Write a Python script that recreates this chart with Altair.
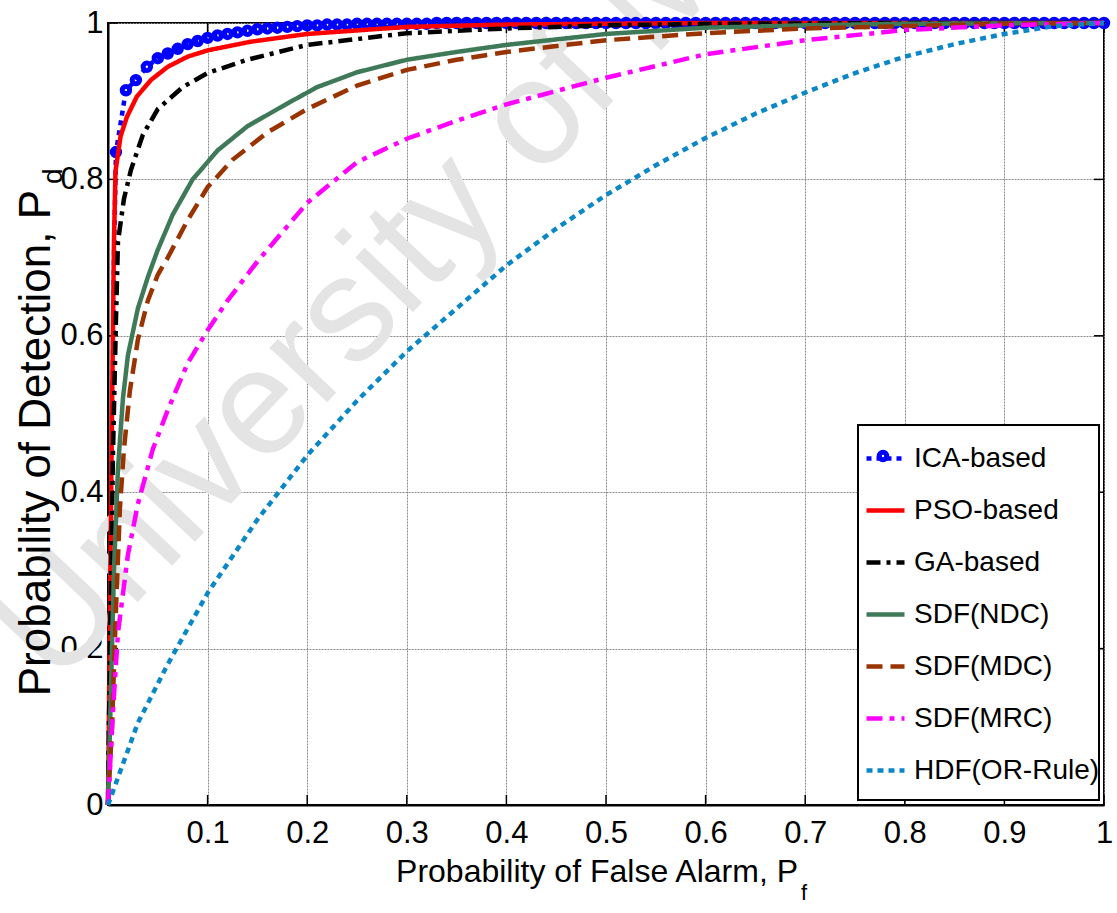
import altair as alt
import pandas as pd

FONT = "Liberation Sans, Arial, sans-serif"

series_names = ["ICA-based", "PSO-based", "GA-based", "SDF(NDC)", "SDF(MDC)", "SDF(MRC)", "HDF(OR-Rule)"]
series_colors = ["#0000FF", "#FF0000", "#000000", "#3F7A58", "#993300", "#FF00FF", "#0B87C8"]
series_dashes = [[5, 5], [1, 0], [14, 6, 4, 6], [1, 0], [16, 8], [16, 7, 5, 7], [6, 5]]

# ICA-based (markers every 0.01 of Pf)
ica_pf = [0, 0.003, 0.006, 0.008, 0.018, 0.028, 0.039, 0.05, 0.06, 0.07, 0.08, 0.09,
          0.10, 0.11, 0.12, 0.13, 0.14, 0.15, 0.16, 0.17, 0.18, 0.19,
          0.20, 0.21, 0.22, 0.23, 0.24, 0.25, 0.26, 0.27, 0.28, 0.29,
          0.30, 0.31, 0.32, 0.33, 0.34, 0.35, 0.36, 0.37, 0.38, 0.39,
          0.40, 0.41, 0.42, 0.43, 0.44, 0.45, 0.46, 0.47, 0.48, 0.49,
          0.50, 0.51, 0.52, 0.53, 0.54, 0.55, 0.56, 0.57, 0.58, 0.59,
          0.60, 0.61, 0.62, 0.63, 0.64, 0.65, 0.66, 0.67, 0.68, 0.69,
          0.70, 0.71, 0.72, 0.73, 0.74, 0.75, 0.76, 0.77, 0.78, 0.79,
          0.80, 0.81, 0.82, 0.83, 0.84, 0.85, 0.86, 0.87, 0.88, 0.89,
          0.90, 0.91, 0.92, 0.93, 0.94, 0.95, 0.96, 0.97, 0.98, 0.99, 1.00]
ica_pd = [0, 0.30, 0.70, 0.835, 0.914, 0.927, 0.944, 0.955, 0.961, 0.967, 0.973, 0.977,
          0.981, 0.984, 0.986, 0.988, 0.990, 0.992, 0.993, 0.994, 0.995, 0.996,
          0.997, 0.997, 0.998, 0.998, 0.998, 0.999, 0.999, 0.999, 0.999, 0.999,
          0.999, 0.999, 0.999, 1.0, 1.0, 1.0, 1.0, 1.0, 1.0, 1.0,
          1.0, 1.0, 1.0, 1.0, 1.0, 1.0, 1.0, 1.0, 1.0, 1.0,
          1.0, 1.0, 1.0, 1.0, 1.0, 1.0, 1.0, 1.0, 1.0, 1.0,
          1.0, 1.0, 1.0, 1.0, 1.0, 1.0, 1.0, 1.0, 1.0, 1.0,
          1.0, 1.0, 1.0, 1.0, 1.0, 1.0, 1.0, 1.0, 1.0, 1.0,
          1.0, 1.0, 1.0, 1.0, 1.0, 1.0, 1.0, 1.0, 1.0, 1.0,
          1.0, 1.0, 1.0, 1.0, 1.0, 1.0, 1.0, 1.0, 1.0, 1.0, 1.0]

pso_pf = [0, 0.002, 0.004, 0.006, 0.0075, 0.0126, 0.019, 0.029, 0.043, 0.06, 0.08, 0.1, 0.143, 0.2, 0.3, 0.4, 0.6, 1.0]
pso_pd = [0, 0.25, 0.50, 0.72, 0.81, 0.855, 0.88, 0.906, 0.927, 0.944, 0.957, 0.965, 0.976, 0.986, 0.995, 0.998, 1.0, 1.0]

ga_pf = [0, 0.002, 0.005, 0.008, 0.01, 0.016, 0.023, 0.035, 0.05, 0.075, 0.1, 0.14, 0.2, 0.3, 0.4, 0.5, 0.6, 0.8, 1.0]
ga_pd = [0, 0.20, 0.45, 0.62, 0.72, 0.775, 0.812, 0.857, 0.89, 0.918, 0.936, 0.953, 0.972, 0.987, 0.993, 0.997, 0.999, 1.0, 1.0]

ndc_pf = [0, 0.003, 0.006, 0.01, 0.015, 0.02, 0.03, 0.04, 0.05, 0.065, 0.085, 0.11, 0.14, 0.18, 0.21, 0.25, 0.3, 0.35, 0.4, 0.5, 0.6, 0.7, 0.8, 1.0]
ndc_pd = [0, 0.15, 0.30, 0.43, 0.52, 0.575, 0.635, 0.675, 0.71, 0.755, 0.80, 0.837, 0.868, 0.897, 0.918, 0.937, 0.953, 0.963, 0.972, 0.986, 0.994, 0.997, 0.999, 1.0]

mdc_pf = [0, 0.004, 0.008, 0.012, 0.016, 0.022, 0.03, 0.04, 0.05, 0.06, 0.08, 0.1, 0.125, 0.16, 0.2, 0.25, 0.3, 0.35, 0.4, 0.5, 0.6, 0.7, 0.8, 0.9, 1.0]
mdc_pd = [0, 0.10, 0.25, 0.38, 0.455, 0.53, 0.595, 0.645, 0.678, 0.70, 0.748, 0.79, 0.825, 0.86, 0.89, 0.92, 0.94, 0.953, 0.963, 0.978, 0.987, 0.993, 0.996, 0.999, 1.0]

mrc_pf = [0, 0.005, 0.01, 0.02, 0.03, 0.045, 0.06, 0.08, 0.1, 0.12, 0.15, 0.2, 0.25, 0.3, 0.35, 0.4, 0.5, 0.6, 0.7, 0.8, 0.9, 1.0]
mrc_pd = [0, 0.12, 0.22, 0.32, 0.385, 0.455, 0.505, 0.565, 0.607, 0.645, 0.695, 0.77, 0.822, 0.852, 0.875, 0.896, 0.93, 0.96, 0.978, 0.991, 0.997, 1.0]

hdf_pf = [0, 0.03, 0.06, 0.1, 0.15, 0.2, 0.25, 0.3, 0.35, 0.4, 0.45, 0.5, 0.55, 0.6, 0.65, 0.7, 0.75, 0.8, 0.85, 0.9, 0.95, 1.0]
hdf_pd = [0, 0.105, 0.18, 0.271, 0.365, 0.447, 0.517, 0.58, 0.635, 0.69, 0.737, 0.78, 0.818, 0.853, 0.884, 0.911, 0.936, 0.957, 0.973, 0.986, 0.996, 1.0]

x_ticks = [0.1, 0.2, 0.3, 0.4, 0.5, 0.6, 0.7, 0.8, 0.9, 1.0]
y_ticks = [0, 0.2, 0.4, 0.6, 0.8, 1.0]

all_pf = [ica_pf, pso_pf, ga_pf, ndc_pf, mdc_pf, mrc_pf, hdf_pf]
all_pd = [ica_pd, pso_pd, ga_pd, ndc_pd, mdc_pd, mrc_pd, hdf_pd]

frames = []
for name, pf, pd_ in zip(series_names, all_pf, all_pd):
    frames.append(pd.DataFrame({"Series": name, "Pf": pf, "Pd": pd_, "idx": range(len(pf))}))
df = pd.concat(frames, ignore_index=True)

x_scale = alt.Scale(domain=[0, 1], nice=False, zero=False)
y_scale = alt.Scale(domain=[0, 1], nice=False, zero=False)
x_enc = alt.X("Pf:Q", scale=x_scale,
              axis=alt.Axis(values=x_ticks, format="~g", title=None, grid=True,
                            labelFont=FONT, labelFontSize=31, labelPadding=13,
                            tickSize=0, labelColor="black", labelFlush=False))
y_enc = alt.Y("Pd:Q", scale=y_scale,
              axis=alt.Axis(values=y_ticks, format="~g", title=None, grid=True,
                            labelFont=FONT, labelFontSize=31, labelPadding=5,
                            tickSize=0, labelColor="black", labelFlush=False))
leg = alt.Legend(title=None, orient="none", legendX=750, legendY=408,
                 symbolType="stroke", symbolSize=1444, symbolStrokeWidth=4.5,
                 labelFont=FONT, labelFontSize=28, labelColor="black", labelLimit=400,
                 rowPadding=16, padding=6, labelOffset=7)
color_enc = alt.Color("Series:N", scale=alt.Scale(domain=series_names, range=series_colors), legend=leg)
dash_enc = alt.StrokeDash("Series:N", scale=alt.Scale(domain=series_names, range=series_dashes), legend=leg)

layers = []

one = pd.DataFrame({"a": [0]})
watermark = alt.Chart(one).mark_text(
    text="University of Malaya", font=FONT, fontSize=150, color="#e4e4e4",
    angle=313.5, align="left", baseline="alphabetic"
).encode(x=alt.value(-52), y=alt.value(665))
layers.append(watermark)

# inward tick marks on all four sides
xt_df = pd.DataFrame({"t": x_ticks})
yt_df = pd.DataFrame({"t": y_ticks})
layers.append(alt.Chart(xt_df).mark_rule(color="black", strokeWidth=1.5).encode(
    x=alt.X("t:Q", scale=x_scale), y=alt.value(782), y2=alt.value(772)))
layers.append(alt.Chart(xt_df).mark_rule(color="black", strokeWidth=1.5).encode(
    x=alt.X("t:Q", scale=x_scale), y=alt.value(0), y2=alt.value(10)))
layers.append(alt.Chart(yt_df).mark_rule(color="black", strokeWidth=1.5).encode(
    y=alt.Y("t:Q", scale=y_scale), x=alt.value(0), x2=alt.value(10)))
layers.append(alt.Chart(yt_df).mark_rule(color="black", strokeWidth=1.5).encode(
    y=alt.Y("t:Q", scale=y_scale), x=alt.value(986), x2=alt.value(996)))

for name in series_names:
    ln = alt.Chart(df).transform_filter(alt.datum.Series == name).mark_line(
        strokeWidth=4.5, strokeCap="butt", clip=False
    ).encode(x=x_enc, y=y_enc, color=color_enc, strokeDash=dash_enc, order="idx:Q")
    layers.append(ln)
    if name == "ICA-based":
        pts = alt.Chart(df).transform_filter(
            (alt.datum.Series == name) & (alt.datum.Pf >= 0.0075)
        ).mark_point(shape="circle", filled=False, size=55, strokeWidth=5, color="#0000FF", opacity=1).encode(
            x=alt.X("Pf:Q"), y=alt.Y("Pd:Q"))
        layers.append(pts)

# legend frame (white box with black border) under the legend entries
leg_box = alt.Chart(one).mark_rect(fill="white", stroke="black", strokeWidth=2).encode(
    x=alt.value(750), x2=alt.value(991), y=alt.value(402), y2=alt.value(777))
layers.append(leg_box)

leg_marker = alt.Chart(one).mark_point(shape="circle", filled=False, size=55, strokeWidth=5,
                                        color="#0000FF", opacity=1).encode(
    x=alt.value(775), y=alt.value(433))
layers.append(leg_marker)

xt = alt.Chart(one).mark_text(text="Probability of False Alarm, P", font=FONT, fontSize=32,
                              color="black", align="right", baseline="alphabetic").encode(
    x=alt.value(690), y=alt.value(859))
xs = alt.Chart(one).mark_text(text="f", font=FONT, fontSize=22, color="black",
                              align="left", baseline="alphabetic").encode(
    x=alt.value(693), y=alt.value(877))
yt = alt.Chart(one).mark_text(text="Probability of Detection, P", font=FONT, fontSize=44,
                              color="black", align="right", baseline="alphabetic", angle=270).encode(
    x=alt.value(-58), y=alt.value(167))
ys = alt.Chart(one).mark_text(text="d", font=FONT, fontSize=28, color="black",
                              align="left", baseline="alphabetic", angle=270).encode(
    x=alt.value(-46), y=alt.value(161))
layers += [xt, xs, yt, ys]

chart = alt.layer(*layers).properties(
    width=996, height=782,
    autosize=alt.AutoSizeParams(type="none"),
    padding={"left": 108, "top": 23, "right": 13, "bottom": 108},
    background="white"
).configure_view(stroke="black", strokeWidth=2).configure_axis(
    domainColor="black", domainWidth=2, gridColor="#8a8a8a", gridWidth=1, gridDash=[2, 1]
)

chart.save("out.html", embed_options={"renderer": "svg", "actions": False})
